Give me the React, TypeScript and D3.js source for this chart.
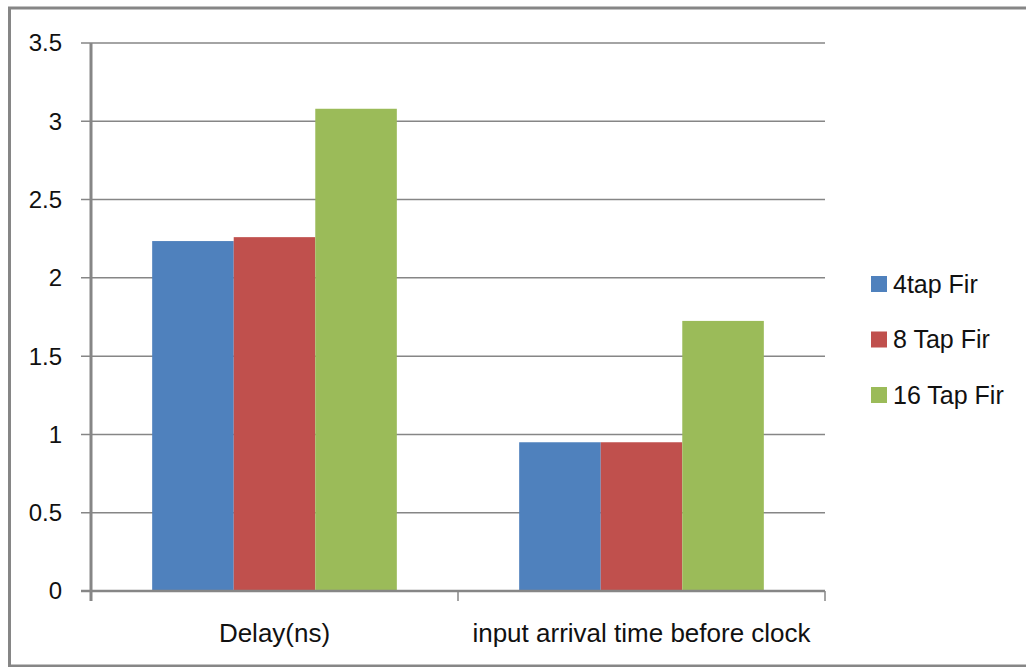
import * as d3 from "d3";

const categories = ["Delay(ns)", "input arrival time before clock"];
const seriesNames = ["4tap Fir", "8 Tap Fir", "16 Tap Fir"];
const seriesValues = [
  [2.235, 0.95],
  [2.26, 0.95],
  [3.08, 1.725],
];
const yTicks = [0, 0.5, 1, 1.5, 2, 2.5, 3, 3.5];
const COLORS = ["#4F81BD", "#C0504D", "#9BBB59"];

const WIDTH = 1026;
const HEIGHT = 667;
const PLOT = { left: 91, right: 825, top: 43, bottom: 591 };
const FONT = "'Liberation Sans', Arial, sans-serif";
const GRID = "#868686";

export default function App() {
  const x = d3
    .scaleBand<string>()
    .domain(categories)
    .range([PLOT.left, PLOT.right])
    .padding(0);

  const xInner = d3
    .scaleBand<string>()
    .domain(seriesNames)
    .range([0, x.bandwidth()])
    .paddingInner(0)
    .paddingOuter(0.75);

  const y = d3.scaleLinear().domain([0, 3.5]).range([PLOT.bottom, PLOT.top]);

  const tickXs = categories.map((c) => (x(c) ?? 0) + x.bandwidth());

  return (
    <svg
      width={WIDTH}
      height={HEIGHT}
      style={{ position: "absolute", left: 0, top: 0, background: "#fff" }}
      fontFamily={FONT}
    >
      {/* outer frame */}
      <rect x={9.5} y={8} width={1030} height={658} fill="#fff" stroke={GRID} strokeWidth={3} />

      {/* gridlines */}
      {yTicks.map((t) =>
        t === 0 ? null : (
          <line key={t} x1={PLOT.left - 10} x2={PLOT.right} y1={y(t)} y2={y(t)} stroke={GRID} strokeWidth={1.5} />
        )
      )}

      {/* bars */}
      {seriesNames.map((s, si) => (
        <g key={s} fill={COLORS[si]}>
          {categories.map((c, ci) => {
            const v = seriesValues[si][ci];
            return (
              <rect
                key={c}
                x={(x(c) ?? 0) + (xInner(s) ?? 0)}
                y={y(v)}
                width={xInner.bandwidth()}
                height={y(0) - y(v)}
              />
            );
          })}
        </g>
      ))}

      {/* axes */}
      <line x1={PLOT.left} x2={PLOT.left} y1={PLOT.top} y2={PLOT.bottom + 10} stroke={GRID} strokeWidth={3} />
      <line x1={PLOT.left - 10} x2={PLOT.right} y1={y(0)} y2={y(0)} stroke={GRID} strokeWidth={2.5} />
      {tickXs.map((tx) => (
        <line key={tx} x1={tx} x2={tx} y1={y(0)} y2={y(0) + 10} stroke={GRID} strokeWidth={1.5} />
      ))}

      {/* y tick labels */}
      {yTicks.map((t) => (
        <text key={t} x={62} y={y(t)} dy="0.35em" textAnchor="end" fontSize={24} fill="#111">
          {t}
        </text>
      ))}

      {/* category labels */}
      {categories.map((c) => (
        <text
          key={c}
          x={(x(c) ?? 0) + x.bandwidth() / 2}
          y={633}
          dy="0.35em"
          textAnchor="middle"
          fontSize={26}
          fill="#111"
        >
          {c}
        </text>
      ))}

      {/* legend */}
      {seriesNames.map((s, i) => {
        const cy = 284 + i * 55.5;
        return (
          <g key={s}>
            <rect x={871} y={cy - 8} width={16} height={16} fill={COLORS[i]} />
            <text x={893} y={cy} dy="0.35em" fontSize={25} fill="#111">
              {s}
            </text>
          </g>
        );
      })}
    </svg>
  );
}
